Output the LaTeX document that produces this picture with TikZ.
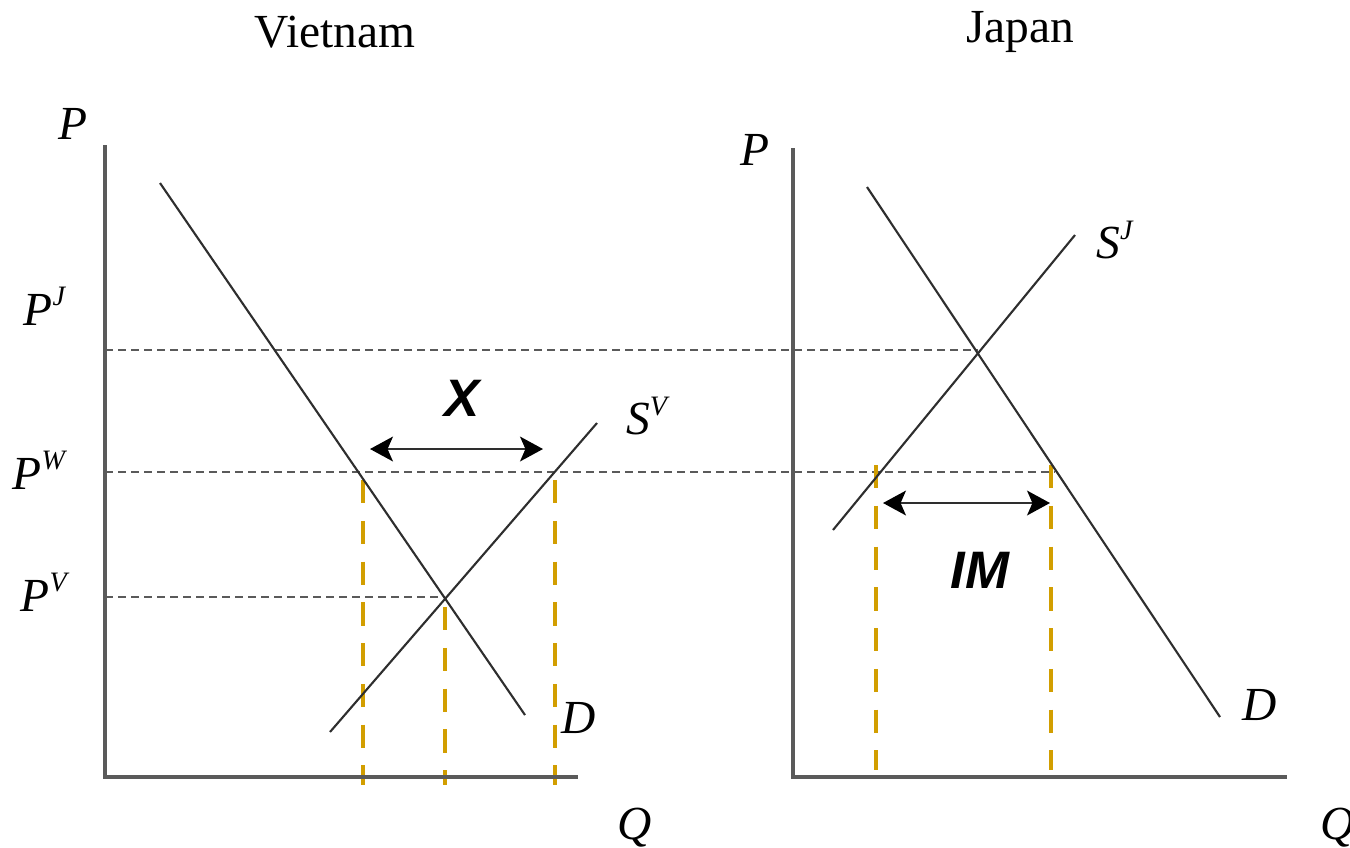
\documentclass[tikz,border=0pt]{standalone}
\usepackage{fontspec}
\setmainfont{Liberation Serif}
\newfontfamily\tagfont{Liberation Sans}
\usetikzlibrary{arrows.meta}
\definecolor{axisgray}{HTML}{5A5A5A}
\definecolor{curvegray}{HTML}{2E2E2E}
\definecolor{goldline}{HTML}{D29E00}
\newcommand{\mlab}[2]{\textit{#1}\raisebox{0.9ex}{\fontsize{8}{9}\selectfont\textit{#2}}}

\begin{document}
\begin{tikzpicture}[x=0.1mm,y=-0.1mm,
  every node/.style={font=\fontsize{13.5}{15}\selectfont,inner sep=0pt},
  axis/.style={line width=0.9pt,color=axisgray},
  curve/.style={line width=0.6pt,color=curvegray},
  guide/.style={line width=0.7pt,color=axisgray,dash pattern=on 2.3pt off 1.4pt},
  qline/.style={line width=1.4pt,color=goldline,dash pattern=on 6.6pt off 5pt},
  arr/.style={{Stealth[length=6.5pt,width=7pt,inset=1.5pt,color=black]}-{Stealth[length=6.5pt,width=7pt,inset=1.5pt,color=black]},line width=0.8pt,color=curvegray},
  tag/.style={font=\fontsize{15}{17}\selectfont\tagfont\bfseries\itshape}
]
\path[use as bounding box] (0,0) rectangle (1350,847);

% titles
\node (vn) at (335,32) {Vietnam};
\node (jp) at (1020,32) {Japan};

% Vietnam panel
\coordinate (vo) at (105,777);
\coordinate (vtop) at (105,145);
\coordinate (vright) at (578,777);
\coordinate (vdA) at (160,183);
\coordinate (vdB) at (525,715);
\coordinate (vsA) at (330,732);
\coordinate (vsB) at (597,423);
\coordinate (veq) at (445,597);

\node (vP) at (73,124) {\textit{P}};
\node (vQ) at (635,828) {\textit{Q}};
\node (pj) at (45,306) {\mlab{P}{J}};
\node (pw) at (40,470) {\mlab{P}{W}};
\node (pv) at (45,592) {\mlab{P}{V}};
\node (sv) at (648,416) {\mlab{S}{V}};
\node (vD) at (579,718) {\textit{D}};
\node[tag] (xlab) at (462,398) {X};

% Japan panel
\coordinate (jo) at (793,777);
\coordinate (jtop) at (793,148);
\coordinate (jright) at (1287,777);
\coordinate (jdA) at (867,187);
\coordinate (jdB) at (1220,717);
\coordinate (jsA) at (833,530);
\coordinate (jsB) at (1075,235);
\coordinate (jeq) at (978,350);
\coordinate (jdw) at (1055,472);

\node (jP) at (755,150) {\textit{P}};
\node (jQ) at (1338,828) {\textit{Q}};
\node (sj) at (1115,240) {\mlab{S}{J}};
\node (jD) at (1260,705) {\textit{D}};
\node[tag] (imlab) at (980,570) {IM};

% price guides
\draw[guide] (105,350) -- (jeq);
\draw[guide] (105,472) -- (jdw);
\draw[guide] (105,597) -- (veq);

% quantity guides
\draw[qline] (363,480) -- (363,785);
\draw[qline] (445,607) -- (445,785);
\draw[qline] (555,480) -- (555,785);
\draw[qline] (876,465) -- (876,770);
\draw[qline] (1051,465) -- (1051,770);

% axes
\draw[axis] (vtop) -- (vo) -- (vright);
\draw[axis] (jtop) -- (jo) -- (jright);

% curves
\draw[curve] (vdA) -- (vdB);
\draw[curve] (vsA) -- (vsB);
\draw[curve] (jdA) -- (jdB);
\draw[curve] (jsA) -- (jsB);

% trade arrows
\draw[arr] (370,449) -- (543,449);
\draw[arr] (883,503) -- (1050,503);
\end{tikzpicture}
\end{document}
